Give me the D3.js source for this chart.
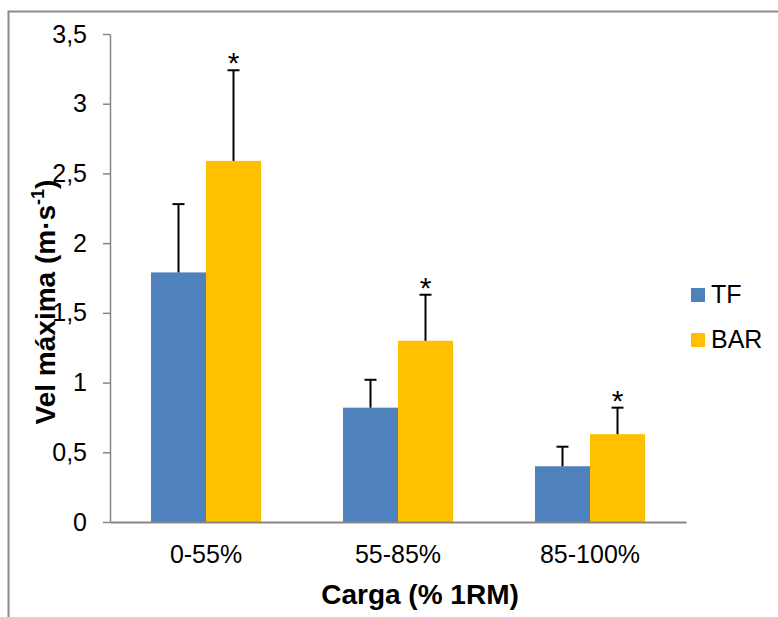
<!DOCTYPE html>
<html>
<head>
<meta charset="utf-8">
<script src="https://cdn.jsdelivr.net/npm/d3@7"></script>
<style>
  body { margin: 0; background: #fff; }
  text { font-family: "Liberation Sans", Arial, sans-serif; fill: #000; }
</style>
</head>
<body>
<div id="chart"></div>
<script>
// data
const categories = ["0-55%", "55-85%", "85-100%"];
const seriesNames = ["TF", "BAR"];
const tfValues = [1.79, 0.82, 0.40];
const tfErrors = [0.49, 0.20, 0.14];
const barValues = [2.59, 1.30, 0.63];
const barErrors = [0.65, 0.33, 0.19];
const barSignificant = [true, true, true];
const yTicks = [0, 0.5, 1, 1.5, 2, 2.5, 3, 3.5];

const colors = { TF: "#4F81BD", BAR: "#FFC000" };

// flatten into rows for drawing
const rows = [];
categories.forEach((c, i) => {
  rows.push({ cat: c, series: "TF", value: tfValues[i], err: tfErrors[i], star: false });
  rows.push({ cat: c, series: "BAR", value: barValues[i], err: barErrors[i], star: barSignificant[i] });
});

/** CONSTANTS */
const width = 778;
const height = 617;
const plot = { left: 110, right: 686, top: 34, bottom: 522 };

/** SCALES */
const x0 = d3.scaleBand()
  .domain(categories)
  .range([plot.left, plot.right])
  .paddingInner(0.427)
  .paddingOuter(0.427 / 2);

const x1 = d3.scaleBand()
  .domain(seriesNames)
  .range([0, x0.bandwidth()]);

const y = d3.scaleLinear()
  .domain([0, 3.5])
  .range([plot.bottom, plot.top]);

const fmt = d3.formatLocale({ decimal: ",", thousands: ".", grouping: [3], currency: ["", ""] }).format(".1~f");

/** DRAWING ELEMENTS */
const svg = d3.select("#chart")
  .append("svg")
  .attr("width", width)
  .attr("height", height);

svg.append("rect")
  .attr("width", width)
  .attr("height", height)
  .attr("fill", "#fff");

// outer frame (only top and left edges are inside the picture)
svg.append("path")
  .attr("d", `M8.5,${height} V11.5 H${width}`)
  .attr("fill", "none")
  .attr("stroke", "#8a8a8a")
  .attr("stroke-width", 2);

// bars
svg.selectAll("rect.bar")
  .data(rows)
  .join("rect")
  .attr("class", "bar")
  .attr("x", d => x0(d.cat) + x1(d.series))
  .attr("y", d => y(d.value))
  .attr("width", x1.bandwidth())
  .attr("height", d => y(0) - y(d.value))
  .attr("fill", d => colors[d.series]);

// error bars (upper only)
const errG = svg.selectAll("g.err")
  .data(rows)
  .join("g")
  .attr("class", "err")
  .attr("stroke", "#000")
  .attr("stroke-width", 2);

errG.append("line")
  .attr("x1", d => x0(d.cat) + x1(d.series) + x1.bandwidth() / 2)
  .attr("x2", d => x0(d.cat) + x1(d.series) + x1.bandwidth() / 2)
  .attr("y1", d => y(d.value))
  .attr("y2", d => y(d.value + d.err));

errG.append("line")
  .attr("x1", d => x0(d.cat) + x1(d.series) + x1.bandwidth() / 2 - 6)
  .attr("x2", d => x0(d.cat) + x1(d.series) + x1.bandwidth() / 2 + 6)
  .attr("y1", d => y(d.value + d.err))
  .attr("y2", d => y(d.value + d.err));

// significance stars
svg.selectAll("text.star")
  .data(rows.filter(d => d.star))
  .join("text")
  .attr("class", "star")
  .attr("x", d => x0(d.cat) + x1(d.series) + x1.bandwidth() / 2)
  .attr("y", d => y(d.value + d.err) + 3)
  .attr("text-anchor", "middle")
  .attr("font-size", 30)
  .text("*");

// y axis
const yAxis = svg.append("g")
  .attr("transform", `translate(${plot.left},0)`)
  .call(d3.axisLeft(y).tickValues(yTicks).tickFormat(fmt).tickSize(7).tickSizeOuter(0).tickPadding(16));
yAxis.select(".domain").attr("stroke", "#868686").attr("stroke-width", 1.5);
yAxis.selectAll(".tick line").attr("stroke", "#868686").attr("stroke-width", 1.5);
yAxis.selectAll(".tick text")
  .attr("font-size", 25)
  .attr("font-family", "Liberation Sans, Arial, sans-serif")
  .attr("fill", "#000");

// x axis
const xAxis = svg.append("g")
  .attr("transform", `translate(0,${plot.bottom})`)
  .call(d3.axisBottom(x0).tickSize(0).tickSizeOuter(0));
xAxis.select(".domain").attr("stroke", "#868686").attr("stroke-width", 2);
xAxis.selectAll(".tick text")
  .attr("y", 41)
  .attr("dy", 0)
  .attr("font-size", 25)
  .attr("font-family", "Liberation Sans, Arial, sans-serif")
  .attr("fill", "#000");

// axis titles
svg.append("text")
  .attr("x", 420)
  .attr("y", 604)
  .attr("text-anchor", "middle")
  .attr("font-size", 28)
  .attr("font-weight", "bold")
  .text("Carga (% 1RM)");

const yTitle = svg.append("text")
  .attr("transform", "translate(55,302) rotate(-90)")
  .attr("text-anchor", "middle")
  .attr("font-size", 28)
  .attr("font-weight", "bold");
yTitle.append("tspan").text("Vel máxima (m·s");
yTitle.append("tspan").attr("font-size", 18).attr("dy", -11).text("-1");
yTitle.append("tspan").attr("dy", 11).text(")");

// legend
const legend = svg.selectAll("g.legend")
  .data(seriesNames)
  .join("g")
  .attr("class", "legend")
  .attr("transform", (d, i) => `translate(691,${288 + i * 45})`);

legend.append("rect")
  .attr("width", 14)
  .attr("height", 14)
  .attr("fill", d => colors[d]);

legend.append("text")
  .attr("x", 20)
  .attr("y", 15)
  .attr("font-size", 25)
  .text(d => d);
</script>
</body>
</html>
